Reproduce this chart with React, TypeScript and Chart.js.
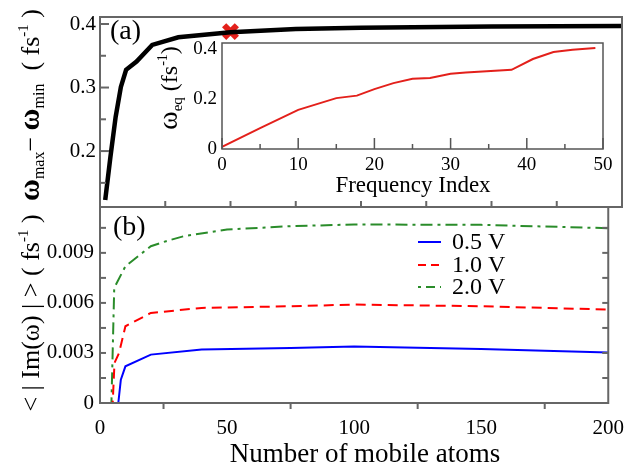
import React, { useEffect, useRef } from 'react';
import { Chart, registerables } from 'chart.js';

Chart.register(...registerables);

const SERIF = '"Liberation Serif", "Times New Roman", serif';

// ---------- Panel (a): spread of frequencies vs number of mobile atoms ----------
const atomsA = [2, 4, 6, 8, 10, 14, 20, 30, 50, 75, 100, 150, 200];
const spreadA = [0.123, 0.191, 0.254, 0.301, 0.328, 0.341, 0.367, 0.379, 0.387, 0.392, 0.394, 0.396, 0.397];
const markerAtoms = [50];
const markerSpread = [0.388];

// ---------- Inset: omega_eq vs frequency index ----------
const freqIndex = [0, 5, 10, 15, 17.7, 20, 22.5, 25, 27.3, 30, 32, 38, 40.8, 43.5, 46, 49];
const omegaEq = [0.009, 0.083, 0.156, 0.203, 0.213, 0.239, 0.263, 0.28, 0.283, 0.3, 0.305, 0.316, 0.359, 0.387, 0.396, 0.403];

// ---------- Panel (b): <|Im(w)|> vs number of mobile atoms ----------
const atoms05 = [2, 7.2, 8.2, 10, 20, 40, 75, 100, 150, 200];
const im05 = [0, 0, 0.0014, 0.0022, 0.0029, 0.0032, 0.0033, 0.00338, 0.00324, 0.00302];
const atoms10 = [2, 5, 5.7, 7.5, 10, 20, 40, 75, 100, 150, 200];
const im10 = [0, 0, 0.0024, 0.003, 0.0046, 0.0054, 0.0057, 0.0058, 0.0059, 0.0058, 0.0056];
const atoms20 = [2, 4.5, 5.6, 10, 20, 26, 33, 50, 75, 100, 150, 200];
const im20 = [0, 0, 0.0069, 0.0082, 0.0094, 0.0097, 0.01, 0.0104, 0.0106, 0.0107, 0.01068, 0.01048];
const seriesLabels = ['0.5 V', '1.0 V', '2.0 V'];

// ---------- Ticks ----------
const xTicksMain = [0, 50, 100, 150, 200];
const xMinorMain = [25, 75, 125, 175];
const xAllA = [25, 50, 75, 100, 125, 150, 175];
const yTicksA = [0.2, 0.3, 0.4];
const yMinorA = [0.15, 0.25, 0.35];
const yTicksB = [0, 0.003, 0.006, 0.009];
const yAllB = [0.0015, 0.003, 0.0045, 0.006, 0.0075, 0.009, 0.0105];
const xTicksInset = [0, 10, 20, 30, 40, 50];
const xMinorInset = [5, 15, 25, 35, 45];
const yTicksInset = [0, 0.2, 0.4];

const pts = (xs: number[], ys: number[]) => xs.map((x, i) => ({ x, y: ys[i] }));

type TickSpec = { axis: 'x' | 'y'; side: 'top' | 'bottom' | 'left' | 'right'; values: number[]; len: number; dir: number };
type Piece = { t: string; size: number; bold?: boolean; dy?: number };

function drawRich(ctx: CanvasRenderingContext2D, x: number, y: number, rot: number, pieces: Piece[]) {
  ctx.save();
  ctx.translate(x, y);
  ctx.rotate(rot);
  ctx.textAlign = 'left';
  ctx.textBaseline = 'alphabetic';
  ctx.fillStyle = '#000';
  const widths: number[] = [];
  let total = 0;
  for (const p of pieces) {
    ctx.font = `${p.bold ? 'bold ' : ''}${p.size}px ${SERIF}`;
    const w = ctx.measureText(p.t).width;
    widths.push(w);
    total += w;
  }
  let cx = -total / 2;
  pieces.forEach((p, i) => {
    ctx.font = `${p.bold ? 'bold ' : ''}${p.size}px ${SERIF}`;
    ctx.fillText(p.t, cx, p.dy || 0);
    cx += widths[i];
  });
  ctx.restore();
}

function framePlugin(id: string, color: string, width: number, specs: TickSpec[]) {
  return {
    id,
    afterDatasetsDraw(chart: any) {
      const { ctx, chartArea: a, scales } = chart;
      ctx.save();
      ctx.strokeStyle = color;
      ctx.lineWidth = width;
      ctx.setLineDash([]);
      ctx.strokeRect(a.left, a.top, a.right - a.left, a.bottom - a.top);
      for (const s of specs) {
        const sc = scales[s.axis];
        for (const v of s.values) {
          const p = sc.getPixelForValue(v);
          ctx.beginPath();
          if (s.side === 'bottom') { ctx.moveTo(p, a.bottom); ctx.lineTo(p, a.bottom - s.dir * s.len); }
          else if (s.side === 'top') { ctx.moveTo(p, a.top); ctx.lineTo(p, a.top + s.dir * s.len); }
          else if (s.side === 'left') { ctx.moveTo(a.left, p); ctx.lineTo(a.left + s.dir * s.len, p); }
          else { ctx.moveTo(a.right, p); ctx.lineTo(a.right - s.dir * s.len, p); }
          ctx.stroke();
        }
      }
      ctx.restore();
    },
  };
}

const tickFont = (size: number) => ({ family: SERIF, size });

function yScale(min: number, max: number, ticks: number[], width: number, size: number, pad: number) {
  return {
    type: 'linear',
    min,
    max,
    grid: { display: false, drawTicks: false },
    border: { display: false },
    afterBuildTicks: (s: any) => { s.ticks = ticks.map((v) => ({ value: v })); },
    afterFit: (s: any) => { s.width = width; },
    ticks: { font: tickFont(size), color: '#000', padding: pad, autoSkip: false, callback: (v: any) => String(v) },
  };
}

function xScale(min: number, max: number, ticks: number[], height: number, size: number, pad: number) {
  return {
    type: 'linear',
    min,
    max,
    grid: { display: false, drawTicks: false },
    border: { display: false },
    afterBuildTicks: (s: any) => { s.ticks = ticks.map((v) => ({ value: v })); },
    afterFit: (s: any) => { s.height = height; },
    ticks: { font: tickFont(size), color: '#000', padding: pad, autoSkip: false, maxRotation: 0, callback: (v: any) => String(v) },
  };
}

const W = 637;
const H = 471;
const FRAME = '#666';

export default function App() {
  const refA = useRef<HTMLCanvasElement>(null);
  const refB = useRef<HTMLCanvasElement>(null);
  const refC = useRef<HTMLCanvasElement>(null);

  useEffect(() => {
    const common = {
      responsive: false,
      animation: false,
      events: [],
      plugins: { legend: { display: false }, tooltip: { enabled: false } },
    };

    // Panel (a)
    const chartA = new Chart(refA.current as HTMLCanvasElement, {
      type: 'line',
      data: {
        datasets: [
          { data: pts(atomsA, spreadA), borderColor: '#000', borderWidth: 4.5, pointRadius: 0, tension: 0, fill: false },
          {
            data: pts(markerAtoms, markerSpread), showLine: false, pointStyle: 'crossRot', pointRadius: 9,
            pointBorderWidth: 6, borderColor: '#e3201b', pointBorderColor: '#e3201b', pointBackgroundColor: '#e3201b',
          },
        ],
      } as any,
      options: {
        ...common,
        layout: { padding: { left: 0, right: W - 630, top: 17, bottom: H - 207 } },
        scales: {
          x: { type: 'linear', min: 0, max: 200, display: false },
          y: yScale(0.112, 0.411, yTicksA, 100, 21, 4),
        },
      } as any,
      plugins: [
        framePlugin('frameA', FRAME, 2, [
          { axis: 'y', side: 'left', values: yTicksA, len: 9, dir: 1 },
          { axis: 'y', side: 'left', values: yMinorA, len: 6, dir: 1 },
          { axis: 'x', side: 'bottom', values: xAllA, len: 6, dir: 1 },
        ]),
        {
          id: 'textA',
          afterDraw(chart: any) {
            const ctx = chart.ctx;
            drawRich(ctx, 39, 105, -Math.PI / 2, [
              { t: 'ω', size: 30, bold: true },
              { t: 'max', size: 16, dy: 5 },
              { t: '− ', size: 26 },
              { t: 'ω', size: 30, bold: true },
              { t: 'min', size: 16, dy: 5 },
              { t: '  ( fs', size: 26 },
              { t: '-1', size: 15, dy: -11 },
              { t: ' )', size: 26 },
            ]);
            ctx.save();
            ctx.fillStyle = '#000';
            ctx.font = `28px ${SERIF}`;
            ctx.textAlign = 'left';
            ctx.textBaseline = 'alphabetic';
            ctx.fillText('(a)', 110, 39);
            ctx.restore();
          },
        },
      ],
    });

    // Panel (b)
    const chartB = new Chart(refB.current as HTMLCanvasElement, {
      type: 'line',
      data: {
        datasets: [
          { label: seriesLabels[0], data: pts(atoms05, im05), borderColor: '#0000ff', borderWidth: 2, pointRadius: 0, tension: 0, fill: false },
          { label: seriesLabels[1], data: pts(atoms10, im10), borderColor: '#ff0000', borderWidth: 2, borderDash: [10, 6], pointRadius: 0, tension: 0, fill: false },
          { label: seriesLabels[2], data: pts(atoms20, im20), borderColor: '#2a8c2a', borderWidth: 2, borderDash: [12, 5, 3, 5], pointRadius: 0, tension: 0, fill: false },
        ],
      } as any,
      options: {
        ...common,
        layout: { padding: { left: 0, right: W - 630, top: 207, bottom: 0 } },
        scales: {
          x: xScale(0, 200, xTicksMain, H - 403, 21, 13),
          y: yScale(0, 0.01175, yTicksB, 100, 21, 6),
        },
      } as any,
      plugins: [
        framePlugin('frameB', FRAME, 2, [
          { axis: 'y', side: 'left', values: yAllB, len: 6, dir: 1 },
          { axis: 'y', side: 'right', values: yAllB, len: 6, dir: 1 },
          { axis: 'x', side: 'bottom', values: xMinorMain, len: 6, dir: -1 },
        ]),
        {
          id: 'textB',
          afterDraw(chart: any) {
            const ctx = chart.ctx;
            drawRich(ctx, 39, 313, -Math.PI / 2, [
              { t: '< | Im(ω) | > ( fs', size: 26 },
              { t: '-1', size: 15, dy: -11 },
              { t: ' )', size: 26 },
            ]);
            ctx.save();
            ctx.fillStyle = '#000';
            ctx.textAlign = 'left';
            ctx.textBaseline = 'alphabetic';
            ctx.font = `28px ${SERIF}`;
            ctx.fillText('(b)', 113, 235);
            ctx.textAlign = 'center';
            ctx.font = `27px ${SERIF}`;
            ctx.fillText('Number of mobile atoms', 365, 462);
            // legend
            const rows = [242, 265, 287];
            chart.data.datasets.forEach((ds: any, i: number) => {
              ctx.strokeStyle = ds.borderColor;
              ctx.lineWidth = 2;
              ctx.setLineDash(i === 1 ? [8, 5] : i === 2 ? [3, 5, 9, 5] : []);
              ctx.beginPath();
              ctx.moveTo(418, rows[i]);
              ctx.lineTo(441, rows[i]);
              ctx.stroke();
              ctx.setLineDash([]);
              ctx.textAlign = 'left';
              ctx.textBaseline = 'middle';
              ctx.font = `24px ${SERIF}`;
              ctx.fillText(ds.label, 452, rows[i] + 1);
            });
            ctx.restore();
          },
        },
      ],
    });

    // Inset
    const chartC = new Chart(refC.current as HTMLCanvasElement, {
      type: 'line',
      data: {
        datasets: [
          { data: pts(freqIndex, omegaEq), borderColor: '#e3201b', borderWidth: 2, pointRadius: 0, tension: 0, fill: false },
        ],
      } as any,
      options: {
        ...common,
        layout: { padding: { left: 0, right: W - 603, top: 43, bottom: 0 } },
        scales: {
          x: xScale(0, 50, xTicksInset, H - 149, 19, 5),
          y: yScale(0, 0.423, yTicksInset, 222, 19, 5),
        },
      } as any,
      plugins: [
        {
          id: 'insetBg',
          beforeDatasetsDraw(chart: any) {
            const { ctx, chartArea: a } = chart;
            ctx.save();
            ctx.fillStyle = '#fff';
            ctx.fillRect(a.left, a.top, a.right - a.left, a.bottom - a.top);
            ctx.restore();
          },
        },
        framePlugin('frameC', '#555', 1.5, [
          { axis: 'x', side: 'bottom', values: xTicksInset, len: 11, dir: 1 },
          { axis: 'x', side: 'bottom', values: xMinorInset, len: 5, dir: 1 },
        ]),
        {
          id: 'textC',
          afterDraw(chart: any) {
            const ctx = chart.ctx;
            drawRich(ctx, 177, 88, -Math.PI / 2, [
              { t: 'ω', size: 28 },
              { t: 'eq', size: 15, dy: 5 },
              { t: ' (fs', size: 24 },
              { t: '-1', size: 14, dy: -10 },
              { t: ')', size: 24 },
            ]);
            ctx.save();
            ctx.fillStyle = '#000';
            ctx.textAlign = 'center';
            ctx.textBaseline = 'alphabetic';
            ctx.font = `23px ${SERIF}`;
            ctx.fillText('Frequency Index', 413, 192);
            ctx.restore();
          },
        },
      ],
    });

    return () => {
      chartA.destroy();
      chartB.destroy();
      chartC.destroy();
    };
  }, []);

  const cv: React.CSSProperties = { position: 'absolute', left: 0, top: 0, display: 'block' };
  return (
    <div style={{ position: 'fixed', left: 0, top: 0, width: W, height: H, background: '#fff' }}>
      <canvas ref={refA} width={W} height={H} style={cv} />
      <canvas ref={refB} width={W} height={H} style={cv} />
      <canvas ref={refC} width={W} height={H} style={cv} />
    </div>
  );
}
